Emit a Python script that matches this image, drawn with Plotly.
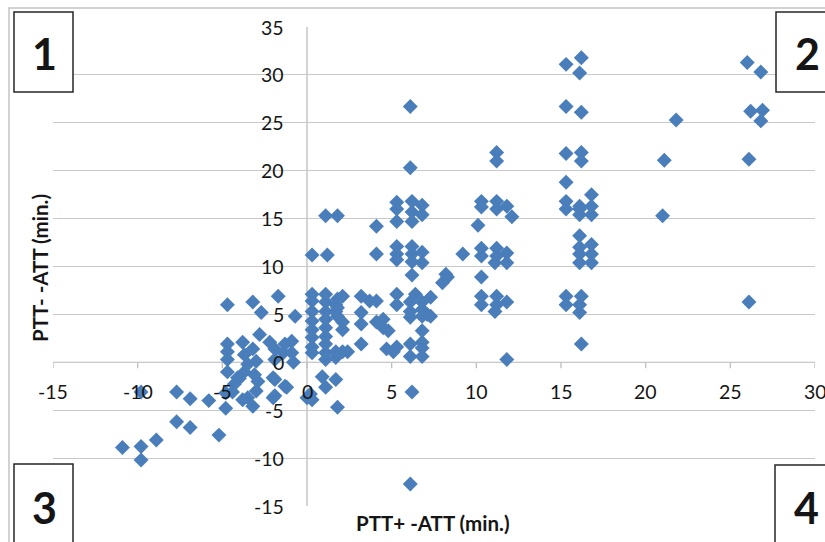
import plotly.graph_objects as go

# ---- data ----
x_vals = [
    15.3, 16.2, 16.1, 15.3, 16.2, 21.8, 15.3, 16.2, 16.2, 21.1, 26.1, 26.0, 26.8, 26.2, 26.9, 26.8, 15.3, 16.8,
    15.3, 15.3, 16.1, 16.1, 16.1, 16.8, 16.8, 21.0, 16.1, 16.1, 16.8, 16.1, 16.8, 16.1, 16.8, 15.3, 15.3, 16.2,
    16.1, 16.1, 16.2, 26.1,
    10.3, 10.3, 11.2, 11.2, 11.8, 12.1, 10.1, 9.2, 10.3, 10.3, 11.2, 11.2, 11.1, 11.8, 11.8, 8.2, 8.0, 8.3, 10.3,
    10.3, 10.3, 11.2, 11.2, 11.1, 11.8, 11.8, 11.2, 11.2, 6.1, 6.1,
    1.1, 1.8, 0.3, 1.2, 4.1, 4.1, 5.3, 5.3, 5.3, 6.2, 6.2, 6.2, 6.8, 6.8, 5.3, 5.3, 5.3, 6.2, 6.2, 6.2, 6.8, 6.8, 6.2,
    0.3, 0.3, 0.3, 0.3, 0.3, 0.3, 0.3, 0.3,
    1.1, 1.1, 1.1, 1.1, 1.1, 1.1, 1.1, 1.1, 1.1,
    1.7, 1.7, 1.7, 1.7, 1.8, 1.8, 1.8,
    2.1, 2.1, 2.1, 2.1, 2.4,
    3.2, 3.2, 3.2, 3.2, 3.7, 4.1, 4.1, 4.5, 4.5, 4.8, 4.7, 5.3, 5.3, 5.3, 5.1,
    6.1, 6.1, 6.1, 6.1, 6.1, 6.4, 6.8, 6.8, 6.8, 6.8, 6.8, 6.8, 7.3, 7.3, 7.1, 6.8,
    -0.7, -1.7, -2.7, -3.2, -4.7, -2.8,
    -4.7, -4.7, -3.8, -3.2, -3.7, -3.5, -3.7, -4.7, -4.1, -3.0, -3.1, -2.9, -3.0, -3.5, -3.8, -3.2,
    -1.9, -2.2, -1.3, -0.9, -0.9, -1.4, -0.8, -1.9, -2.0, -1.3, -1.9, 0.2, -4.4, -4.3, -4.7,
    0.9, 1.1, 1.7, 1.8, 0.3, 0.0,
    6.2, 6.1,
    -10.9, -9.8, -9.8, -8.9, -7.7, -6.9, -5.2, -9.8, -7.7, -6.9, -5.8, -4.8, -4.8, -2.0, -1.2, -1.9, -4.0,
]
y_vals = [
    31.1, 31.8, 30.2, 26.7, 26.1, 25.3, 21.8, 21.9, 21.0, 21.1, 21.2, 31.3, 30.3, 26.2, 26.3, 25.2, 18.8, 17.5,
    16.8, 16.0, 16.3, 15.4, 16.0, 16.3, 15.4, 15.3, 13.2, 12.0, 12.3, 11.3, 11.3, 10.4, 10.4, 6.9, 6.0, 6.9,
    6.0, 5.2, 1.9, 6.3,
    16.8, 16.2, 16.8, 16.0, 16.3, 15.2, 14.3, 11.3, 11.9, 11.1, 11.9, 11.1, 10.4, 11.4, 10.4, 9.2, 8.3, 8.9, 8.9,
    6.9, 6.0, 6.9, 6.0, 5.3, 6.3, 0.3, 21.9, 21.0, 26.7, 20.3,
    15.3, 15.3, 11.2, 11.2, 14.2, 11.3, 16.7, 16.0, 14.7, 16.8, 15.7, 14.7, 16.4, 15.4, 12.1, 11.3, 10.7, 12.1, 11.3, 10.5, 11.5, 10.4, 9.1,
    7.1, 6.4, 5.3, 4.3, 3.4, 2.6, 1.6, 1.0,
    7.1, 6.3, 5.3, 4.5, 3.6, 2.7, 1.9, 1.0, 0.3,
    6.0, 5.3, 1.1, 0.5, 6.6, 5.7, 4.8,
    6.9, 4.2, 3.4, 1.1, 1.1,
    6.9, 5.2, 4.0, 1.9, 6.4, 6.4, 4.2, 3.6, 4.5, 3.3, 1.4, 7.1, 6.0, 1.6, 1.1,
    6.3, 5.3, 4.7, 1.9, 0.6, 7.1, 1.5, 2.1, 5.5, 4.8, 3.3, 0.6, 6.8, 4.8, 5.0, 6.3,
    4.8, 6.9, 5.2, 6.3, 6.0, 2.9,
    1.9, 1.1, 2.1, 1.4, 0.8, -0.2, -1.0, -1.0, -1.6, 0.1, -1.3, -2.0, -3.0, -3.7, -3.9, -4.6,
    1.4, 2.1, 1.9, 2.2, 1.0, 1.0, 0.0, 0.3, -1.6, -2.5, -3.5, -3.3, -3.1, -2.3, 0.3,
    -1.5, -2.6, -1.8, -4.7, -3.9, -3.7,
    -3.1, -12.7,
    -8.9, -8.8, -10.2, -8.1, -6.2, -6.8, -7.6, -3.1, -3.1, -3.8, -4.0, -4.8, -3.2, -3.7, -2.6, -1.8, -1.7,
]

x_ticks = [-15, -10, -5, 0, 5, 10, 15, 20, 25, 30]
y_ticks = [-15, -10, -5, 0, 5, 10, 15, 20, 25, 30, 35]
x_title = "PTT+ -ATT (min.)"
y_title = "PTT- -ATT (min.)"
corner_labels = ["1", "2", "3", "4"]

# ---- layout geometry (pixels) ----
W, H = 825, 542
L, R, T, B = 53, 815, 27, 506


def px(x):
    return (x - L) / (R - L)


def py(y):
    return (B - y) / (B - T)


FONT = "Lato, 'Open Sans', sans-serif"
GRID = "#C9C9C9"
AXIS = "#BDBDBD"
TXT = "#151515"

fig = go.Figure()
fig.add_trace(go.Scatter(
    x=x_vals, y=y_vals, mode="markers",
    marker=dict(symbol="diamond", size=11.5, color="#4A7EBB", line=dict(width=0)),
    hoverinfo="x+y", showlegend=False,
))

shapes = []
annotations = []

# outer chart frame
shapes.append(dict(type="rect", xref="paper", yref="paper", x0=px(9), x1=px(835), y0=py(8), y1=py(560),
                   line=dict(color="#C4C4C4", width=1.5), fillcolor="rgba(0,0,0,0)", layer="below"))

# axis lines crossing at the origin
shapes.append(dict(type="line", xref="x", yref="y", x0=0, x1=0, y0=y_ticks[0], y1=y_ticks[-1],
                   line=dict(color=AXIS, width=1.3), layer="below"))
shapes.append(dict(type="line", xref="x", yref="y", x0=x_ticks[0], x1=x_ticks[-1], y0=0, y1=0,
                   line=dict(color=AXIS, width=1.3), layer="below"))
for xv in x_ticks:
    shapes.append(dict(type="line", xref="x", yref="y", ysizemode="pixel", yanchor=0,
                       x0=xv, x1=xv, y0=0, y1=-6, line=dict(color=AXIS, width=1.3), layer="below"))

# tick labels as text placed on the data scale
for xv in x_ticks:
    annotations.append(dict(x=xv, y=0, xref="x", yref="y", text=str(xv), showarrow=False,
                            yshift=-29, xanchor="center", yanchor="middle",
                            font=dict(family=FONT, size=19.5, color=TXT)))
for yv in y_ticks:
    annotations.append(dict(x=0, y=yv, xref="x", yref="y", text=str(yv), showarrow=False,
                            xshift=-21, xanchor="right", yanchor="middle",
                            font=dict(family=FONT, size=19.5, color=TXT)))

# axis titles
annotations.append(dict(x=px(433), y=py(523), xref="paper", yref="paper", text=x_title, showarrow=False,
                        xanchor="center", yanchor="middle",
                        font=dict(family=FONT, size=20.5, color=TXT, weight="bold")))
annotations.append(dict(x=px(40), y=py(268), xref="paper", yref="paper", text=y_title, showarrow=False,
                        textangle=-90, xanchor="center", yanchor="middle",
                        font=dict(family=FONT, size=20.5, color=TXT, weight="bold")))

# numbered corner boxes
boxes = [(14, 12, 73, 92, 44, 53), (776, 12, 836, 92, 807, 53),
         (14, 464, 73, 548, 44, 507), (775, 465, 835, 548, 806, 507)]
for lab, (bx0, by0, bx1, by1, cx, cy) in zip(corner_labels, boxes):
    shapes.append(dict(type="rect", xref="paper", yref="paper", x0=px(bx0), x1=px(bx1), y0=py(by0), y1=py(by1),
                       line=dict(color="#262626", width=1.5), fillcolor="white", layer="above"))
    annotations.append(dict(x=px(cx), y=py(cy), xref="paper", yref="paper", text=lab, showarrow=False,
                            xanchor="center", yanchor="middle",
                            font=dict(family=FONT, size=43, color=TXT, weight="bold")))

fig.update_layout(
    width=W, height=H,
    margin=dict(l=L, r=W - R, t=T, b=H - B, pad=0),
    paper_bgcolor="white", plot_bgcolor="white",
    xaxis=dict(range=[x_ticks[0], x_ticks[-1]], showgrid=False, zeroline=False, showline=False,
               showticklabels=False, ticks="", fixedrange=True),
    yaxis=dict(range=[y_ticks[0], y_ticks[-1]], tickmode="array", tickvals=y_ticks, showgrid=True,
               gridcolor=GRID, gridwidth=1, zeroline=False, showline=False, showticklabels=False,
               ticks="", fixedrange=True),
    shapes=shapes, annotations=annotations,
)

fig.write_html("out.html")
